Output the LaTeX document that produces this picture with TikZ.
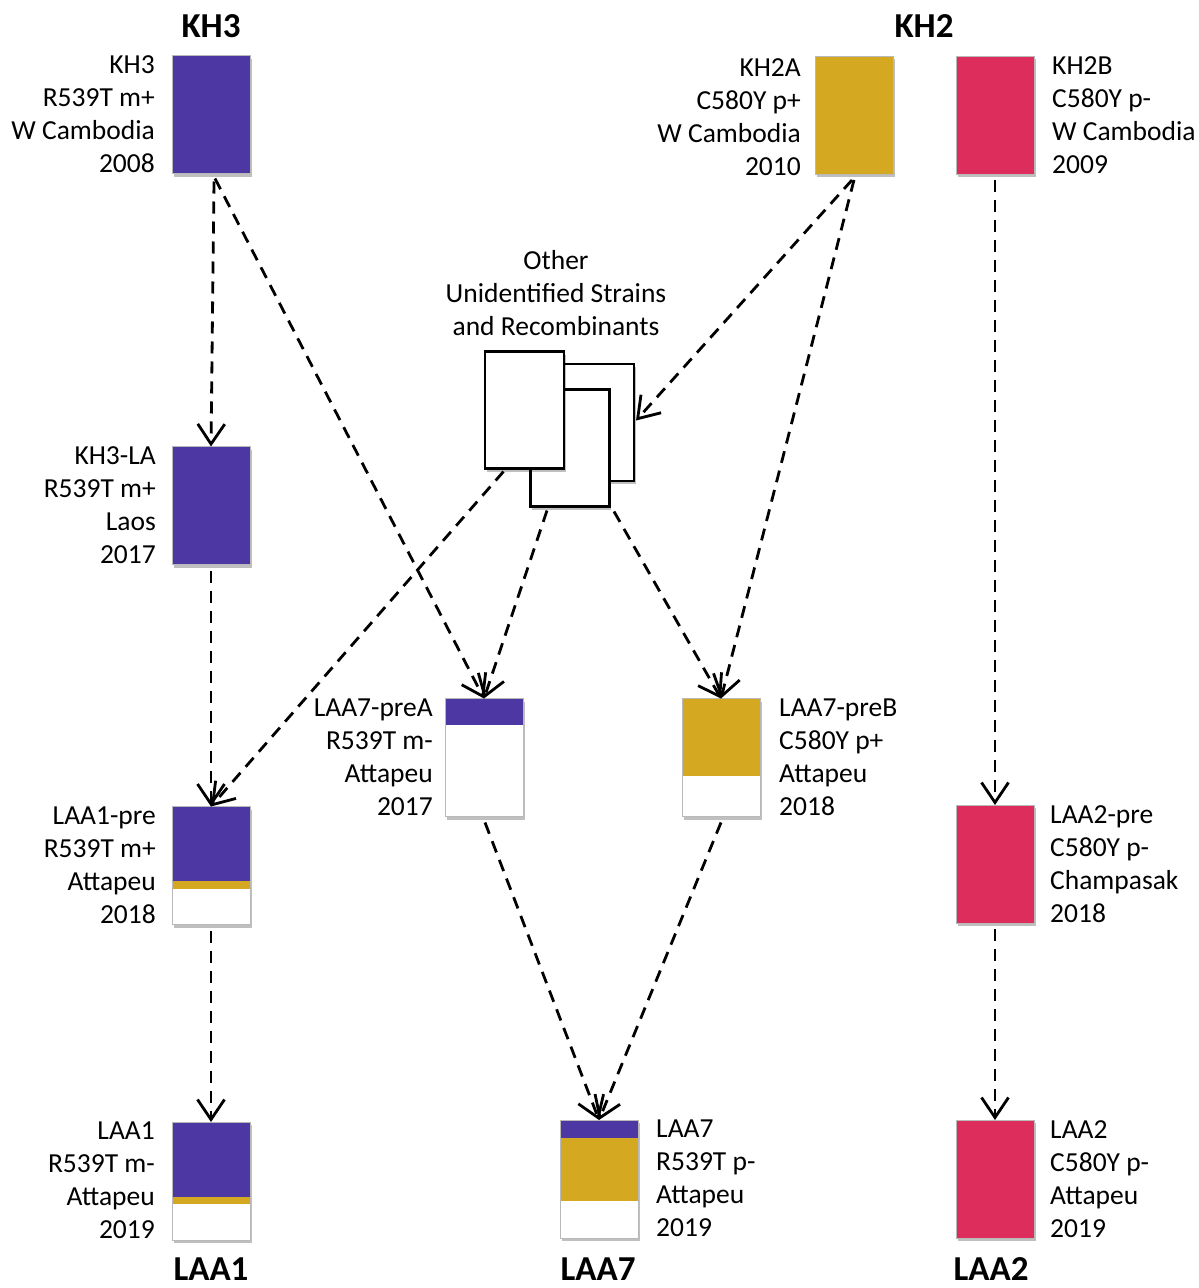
\documentclass[tikz,border=0pt]{standalone}
\usepackage{fontspec}
\setmainfont{Carlito}
\usetikzlibrary{arrows.meta,calc,shadows}
\definecolor{purp}{HTML}{4D37A2}
\definecolor{gold}{HTML}{D4A820}
\definecolor{pinkr}{HTML}{DC2D5C}
\tikzset{
 strain/.style={rectangle, minimum width=78pt, minimum height=118pt, inner sep=0pt, outer sep=0pt, draw=gray!55, line width=0.6pt, fill=white,
   drop shadow={shadow xshift=1.5pt, shadow yshift=-3pt, fill=black, opacity=0.25}},
 paper/.style={rectangle, minimum width=79pt, minimum height=117pt, inner sep=0pt, outer sep=0pt, draw=black, line width=2.2pt, fill=white,
   drop shadow={shadow xshift=1.5pt, shadow yshift=-3pt, fill=black, opacity=0.25}},
 lbl/.style={font=\fontsize{27.5}{33}\selectfont, inner sep=0pt},
 lblL/.style={lbl, align=right, anchor=north east},
 lblR/.style={lbl, align=left, anchor=north west},
 ttl/.style={font=\fontsize{35}{40}\selectfont\bfseries, inner sep=0pt},
 flow/.style={line width=2.8pt, dash pattern=on 12pt off 8pt, -{Straight Barb[length=20pt,width=27pt,line width=2.8pt]}},
 edge/.style={draw=gray!55, line width=0.6pt},
}
\begin{document}
\begin{tikzpicture}[x=1pt,y=-1pt]
\useasboundingbox (0,0) rectangle (1199,1288);

% titles
\node[ttl] (tKH3) at (211,26) {KH3};
\node[ttl] (tKH2) at (924,26) {KH2};
\node[ttl] (tLAA1) at (211,1269) {LAA1};
\node[ttl] (tLAA7) at (598,1269) {LAA7};
\node[ttl] (tLAA2) at (991,1269) {LAA2};

% strain boxes
\node[strain, fill=purp] (kh3) at (211,114.5) {};
\node[strain, fill=gold] (kh2a) at (854,115) {};
\node[strain, fill=pinkr] (kh2b) at (995,115) {};
\node[strain, fill=purp] (kh3la) at (211,505.5) {};
\node[strain] (preA) at (484,757.5) {};
\node[strain] (preB) at (721,757.5) {};
\node[strain] (laa1pre) at (211,865.5) {};
\node[strain, fill=pinkr] (laa2pre) at (995,864) {};
\node[strain] (laa1) at (211,1181) {};
\node[strain] (laa7) at (599,1179) {};
\node[strain, fill=pinkr] (laa2) at (995,1179) {};

% stripes
\fill[purp] (preA.north west) rectangle ($(preA.north east)!0.227!(preA.south east)$);
\fill[gold] (preB.north west) rectangle ($(preB.north east)!0.655!(preB.south east)$);
\fill[purp] (laa1pre.north west) rectangle ($(laa1pre.north east)!0.632!(laa1pre.south east)$);
\fill[gold] ($(laa1pre.north west)!0.632!(laa1pre.south west)$) rectangle ($(laa1pre.north east)!0.70!(laa1pre.south east)$);
\fill[purp] (laa1.north west) rectangle ($(laa1.north east)!0.636!(laa1.south east)$);
\fill[gold] ($(laa1.north west)!0.636!(laa1.south west)$) rectangle ($(laa1.north east)!0.695!(laa1.south east)$);
\fill[purp] (laa7.north west) rectangle ($(laa7.north east)!0.154!(laa7.south east)$);
\fill[gold] ($(laa7.north west)!0.154!(laa7.south west)$) rectangle ($(laa7.north east)!0.684!(laa7.south east)$);
\foreach \n in {preA,preB,laa1pre,laa1,laa7}
  \draw[edge] (\n.north west) rectangle (\n.south east);

% labels
\node[lblL] (lkh3) at ($(kh3.north west)+(-17,0)$) {KH3\\R539T m+\\W Cambodia\\2008};
\node[lblL] (lkh2a) at ($(kh2a.north west)+(-14,2)$) {KH2A\\C580Y p+\\W Cambodia\\2010};
\node[lblR] (lkh2b) at ($(kh2b.north east)+(18,0)$) {KH2B\\C580Y p-\\W Cambodia\\2009};
\node[lblL] (lkh3la) at ($(kh3la.north west)+(-16,0)$) {KH3-LA\\R539T m+\\Laos\\2017};
\node[lblL] (lpreA) at ($(preA.north west)+(-12,0)$) {LAA7-preA\\R539T m-\\Attapeu\\2017};
\node[lblR] (lpreB) at ($(preB.north east)+(19,0)$) {LAA7-preB\\C580Y p+\\Attapeu\\2018};
\node[lblL] (llaa1pre) at ($(laa1pre.north west)+(-16,0)$) {LAA1-pre\\R539T m+\\Attapeu\\2018};
\node[lblR] (llaa2pre) at ($(laa2pre.north east)+(16,0)$) {LAA2-pre\\C580Y p-\\Champasak\\2018};
\node[lblL] (llaa1) at ($(laa1.north west)+(-17,0)$) {LAA1\\R539T m-\\Attapeu\\2019};
\node[lblR] (llaa7) at ($(laa7.north east)+(18,0)$) {LAA7\\R539T p-\\Attapeu\\2019};
\node[lblR] (llaa2) at ($(laa2.north east)+(16,0)$) {LAA2\\C580Y p-\\Attapeu\\2019};

% other strains
\node[lbl, align=center] (other) at (556,293) {Other\\Unidentified Strains\\and Recombinants};
\node[paper] (p3) at (594.5,422.5) {};
\node[paper] (p2) at (570,448) {};
\node[paper] (p1) at (524.5,410) {};

% connectors
\draw[flow] ($(kh3.south)+(3,8)$) -- (kh3la.north);
\draw[flow] ($(kh3.south)+(4,5)$) -- (preA.north);
\draw[flow] ($(kh3la.south)+(0,6)$) -- (laa1pre.north);
\draw[flow] ($(p1.south)+(-21,3)$) -- (laa1pre.north);
\draw[flow] ($(p2.south)+(-23,4)$) -- (preA.north);
\draw[flow] ($(p2.south)+(44,5)$) -- (preB.north);
\draw[flow] ($(kh2a.south)+(-2,6)$) -- ($(p3.east)+(2,-2)$);
\draw[flow] ($(kh2a.south)+(0,6)$) -- (preB.north);
\draw[flow] ($(kh2b.south)+(0,6)$) -- (laa2pre.north);
\draw[flow] ($(preA.south)+(1,6)$) -- (laa7.north);
\draw[flow] ($(preB.south)+(0,6)$) -- (laa7.north);
\draw[flow] ($(laa1pre.south)+(0,6)$) -- (laa1.north);
\draw[flow] ($(laa2pre.south)+(0,6)$) -- (laa2.north);
\end{tikzpicture}
\end{document}
